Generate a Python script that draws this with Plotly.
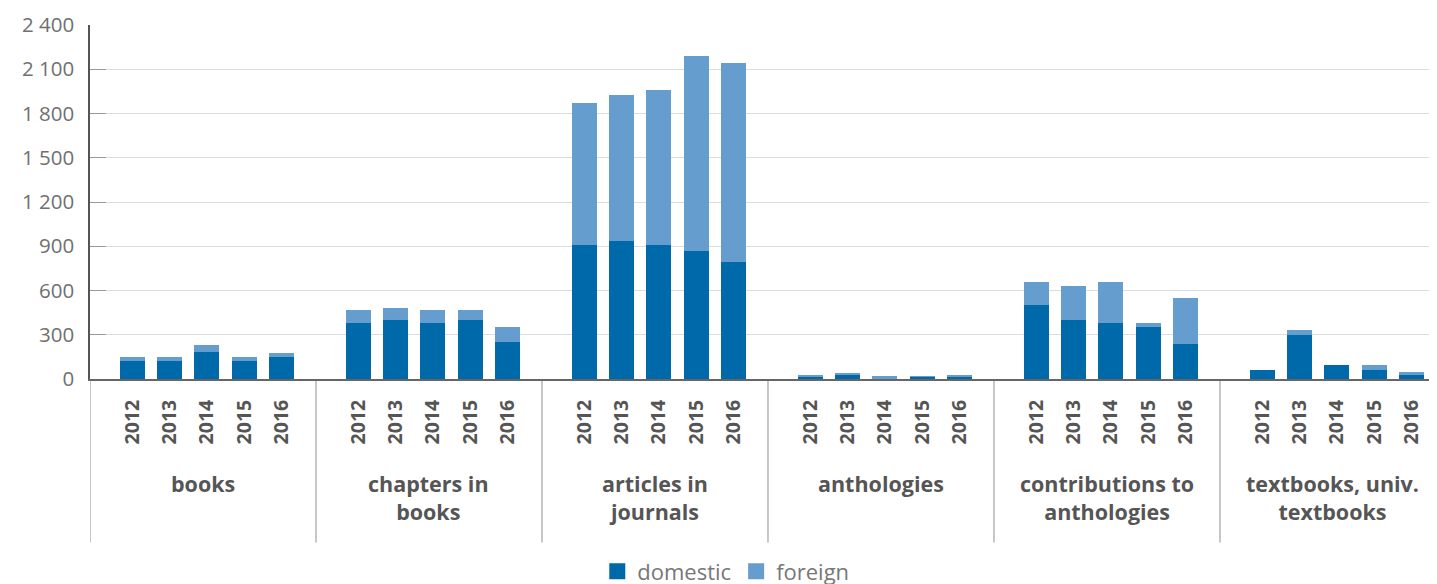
import plotly.graph_objects as go

groups = ["books", "chapters in<br>books", "articles in<br>journals", "anthologies",
          "contributions to<br>anthologies", "textbooks, univ.<br>textbooks"]
years = ["2012", "2013", "2014", "2015", "2016"]

domestic = {
    "books": [122, 122, 186, 122, 146],
    "chapters": [382, 402, 382, 402, 253],
    "articles": [909, 937, 909, 869, 796],
    "anthologies": [20, 28, 3, 14, 20],
    "contributions": [503, 399, 381, 352, 237],
    "textbooks": [60, 298, 95, 61, 27],
}
foreign = {
    "books": [28, 28, 46, 28, 32],
    "chapters": [88, 79, 88, 68, 102],
    "articles": [963, 989, 1050, 1320, 1345],
    "anthologies": [3, 7, 20, 2, 4],
    "contributions": [155, 232, 277, 29, 311],
    "textbooks": [0, 33, 0, 34, 20],
}

keys = list(domestic.keys())

# layout geometry (axis units)
G = 6.067       # group width
OFF = 1.14      # first bar offset within group
xs, labels, dom_vals, for_vals = [], [], [], []
for g, k in enumerate(keys):
    for i, yr in enumerate(years):
        xs.append(g * G + OFF + i)
        labels.append(yr)
        dom_vals.append(domestic[k][i])
        for_vals.append(foreign[k][i])

C_DOM = "#0069AA"
C_FOR = "#649DCE"

fig = go.Figure()
fig.add_trace(go.Bar(x=xs, y=dom_vals, name="domestic", marker_color=C_DOM,
                     width=0.67, marker_line_width=0, showlegend=False))
fig.add_trace(go.Bar(x=xs, y=for_vals, name="foreign", marker_color=C_FOR,
                     width=0.67, marker_line_width=0, showlegend=False))
# legend proxies with larger squares
for nm, c in [("domestic", C_DOM), ("foreign", C_FOR)]:
    fig.add_trace(go.Scatter(x=[None], y=[None], mode="markers", name=nm,
                             marker=dict(symbol="square", size=20, color=c)))

# page body has an 8px margin; positions below are in window pixels
plot_h = 379.3 - 25
def py(pix):
    return (379.3 - pix) / plot_h

for g, name in enumerate(groups):
    fig.add_annotation(x=g * G + G / 2, xref="x", y=py(467), yref="paper",
                       text=name, showarrow=False, yanchor="top", xanchor="center",
                       font=dict(family="Open Sans", size=21.5, color="#555555", weight="bold"))
for g in range(6):
    fig.add_shape(type="line", xref="x", yref="paper", x0=g * G, x1=g * G,
                  y0=0, y1=py(543), line=dict(color="#b5b5b5", width=1.5), layer="below")

fig.update_layout(
    barmode="stack",
    width=1429, height=576,
    margin=dict(l=82, r=0, t=17, b=576 - (379.3 - 8), autoexpand=False),
    plot_bgcolor="white", paper_bgcolor="white",
    separators=". ",
    font=dict(family="Open Sans", color="#707070"),
    legend=dict(orientation="h", x=0.472, xanchor="center", y=py(572), yanchor="middle",
                font=dict(family="Open Sans", size=22, color="#777777"),
                traceorder="normal", itemsizing="trace", tracegroupgap=0),
    xaxis=dict(range=[0, (1437 - 90) / 37.25], tickmode="array", tickvals=xs, ticktext=labels,
               tickangle=-90, showgrid=False, zeroline=False, showline=True,
               linecolor="#666666", linewidth=2, ticks="", ticklabelstandoff=11,
               automargin=False,
               tickfont=dict(family="Open Sans", size=19.5, color="#555555", weight="bold")),
    yaxis=dict(range=[0, 2400], tickvals=[0, 300, 600, 900, 1200, 1500, 1800, 2100, 2400],
               tickformat=",d", showgrid=True, gridcolor="#dcdcdc", gridwidth=1.3,
               zeroline=False, showline=True, linecolor="#555555", linewidth=1.5,
               ticks="inside", ticklen=16, tickcolor="#999999", tickwidth=1.3,
               ticklabelstandoff=10, automargin=False,
               tickfont=dict(family="Open Sans", size=20.5, color="#707070")),
)

fig.write_html("out.html")
